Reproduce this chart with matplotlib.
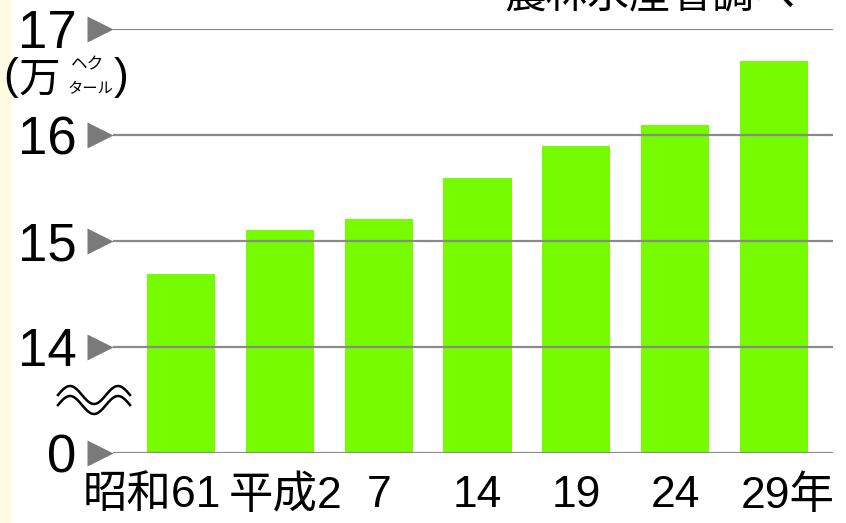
import numpy as np
import matplotlib.pyplot as plt
import matplotlib.transforms as mtrans
from matplotlib.patches import Rectangle
from matplotlib.lines import Line2D

# data (万ha)
years = ['昭和61', '平成2', '7', '14', '19', '24', '29年']
area = [14.69, 15.10, 15.21, 15.59, 15.90, 16.09, 16.70]
ytick_vals = [13, 14, 15, 16, 17]   # 13 stands for the broken "0"
ytick_labels = ['0', '14', '15', '16', '17']

W, H = 846, 523
green = '#76fb00'
grey = '#8a8a8a'
fam = ['Liberation Sans', 'Noto Sans CJK JP']
plt.rcParams['font.family'] = fam

fig = plt.figure(figsize=(W / 100, H / 100), dpi=100, facecolor='white')
fig.patches.append(Rectangle((0, 0), 10 / W, 1, transform=fig.transFigure,
                             color='#fffbe3', zorder=0))

def px(x, y):
    return x / W, 1 - y / H

l, b = px(110, 453)
r, t = px(833, 29)
ax = fig.add_axes([l, b, r - l, t - b])
ax.set_facecolor('none')

x = np.arange(len(years))
ax.bar(x, [v - 13 for v in area], bottom=13, width=0.69, color=green, zorder=1)

for v in ytick_vals:
    ax.axhline(v, xmin=0.005, xmax=1, color=grey, lw=1.6, zorder=2)
    ax.plot([-0.014], [v], marker='>', ms=19, color='#7a7a7a', mec='none',
            transform=ax.get_yaxis_transform(), clip_on=False, zorder=3)

ax.set_xlim(-0.72, 6.6)
ax.set_ylim(13, 17)
ax.set_yticks(ytick_vals, ytick_labels)
ax.set_xticks(x, years)
ax.tick_params(axis='y', length=0, pad=24, labelsize=38)
ax.tick_params(axis='x', length=0, pad=16, labelsize=32)
for s in ax.spines.values():
    s.set_visible(False)

# nudge the category labels like the original
shifts = [-29, 6, 0, 0, 0, 0, 14]
for lab, dx in zip(ax.get_xticklabels(), shifts):
    lab.set_transform(lab.get_transform() +
                      mtrans.ScaledTranslation(dx / 100, 0, fig.dpi_scale_trans))

# unit label
fig.text(*px(3, 78), '(', fontsize=32, va='center', ha='left')
fig.text(*px(19, 80), '万', fontsize=30, va='center', ha='left', family='Noto Sans CJK JP')
fig.text(*px(88, 65), 'ヘク', fontsize=12, va='center', ha='center', family='Noto Sans CJK JP')
fig.text(*px(90, 89), 'タール', fontsize=11, va='center', ha='center', family='Noto Sans CJK JP')
fig.text(*px(114, 78), ')', fontsize=32, va='center', ha='left')

# cut-off heading at the top edge
fig.text(*px(650, 16), '農林水産省調べ', fontsize=30, ha='center', va='bottom',
         family='Noto Sans CJK JP')

# break mark
tt = np.linspace(0, 1, 80)
for dy in (-5, 5):
    xs = 58 + 72 * tt
    ys = 400 + dy - 9 * np.sin(tt * 3 * np.pi)
    fig.lines.append(Line2D(xs / W, 1 - ys / H, transform=fig.transFigure,
                            color='black', lw=1.8))

fig.savefig('out.png', dpi=100, facecolor=fig.get_facecolor())
